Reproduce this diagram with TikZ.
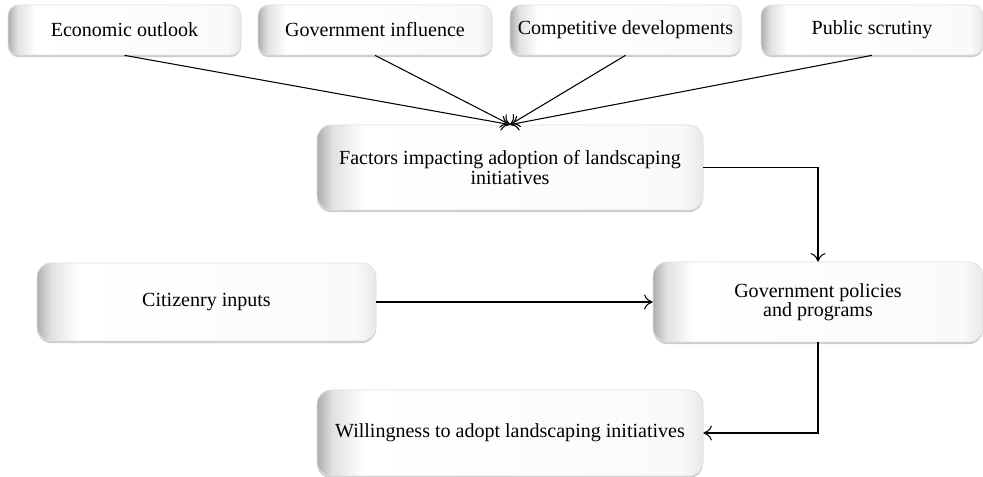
\documentclass[tikz,border=0pt]{standalone}
\usepackage{fontspec}
\setmainfont{Liberation Serif}
\usetikzlibrary{arrows.meta, positioning, shadows}
\pgfdeclarehorizontalshading{boxshade}{100bp}{color(0bp)=(black!32); color(25bp)=(black!32); color(27bp)=(black!12); color(31bp)=(white); color(72bp)=(black!2); color(75bp)=(black!9); color(100bp)=(black!9)}
\tikzset{
  every picture/.style={line width=0.6pt},
  box/.style={draw=black!12, line width=0.4pt, shading=boxshade, rounded corners=8pt, align=center,
    font=\fontsize{11.4}{11}\selectfont, inner sep=2pt,
    drop shadow={shadow xshift=0pt, shadow yshift=-1.2pt, opacity=0.2, fill=black}},
  arrow/.style={-{To[length=1.7mm, width=3mm]}, draw=black},
}

\begin{document}
\begin{tikzpicture}[t/.style={box, minimum height=1.0cm, rounded corners=6pt}]
  \useasboundingbox (0, 0) rectangle (19.66, -9.54);
  \node[t, minimum width=4.66cm] (econ) at (2.49, -0.60) {Economic outlook};
  \node[t, minimum width=4.68cm] (ginf) at (7.50, -0.60) {Government influence};
  \node[t, minimum width=4.62cm] (comp) at (12.51, -0.60) {Competitive developments};
  \node[t, minimum width=4.44cm] (pub) at (17.44, -0.60) {Public scrutiny};
  \node[box, minimum width=7.72cm, minimum height=1.70cm] (fac) at (10.20, -3.35) {Factors impacting adoption of landscaping\\initiatives};
  \node[box, minimum width=6.78cm, minimum height=1.56cm] (cit) at (4.13, -6.04) {Citizenry inputs};
  \node[box, minimum width=6.60cm, minimum height=1.60cm] (gov) at (16.36, -6.04) {Government policies\\and programs};
  \node[box, minimum width=7.72cm, minimum height=1.72cm] (will) at (10.20, -8.66) {Willingness to adopt landscaping initiatives};
  \draw[arrow] (econ.south) -- (fac.north); \draw[arrow] (ginf.south) -- (fac.north);
  \draw[arrow] (comp.south) -- (fac.north); \draw[arrow] (pub.south) -- (fac.north);
  \draw[arrow] (fac.east) -| (gov.north); \draw[arrow] (cit) -- (gov);
  \draw[arrow] (gov.south) |- (will.east);
\end{tikzpicture}
\end{document}
